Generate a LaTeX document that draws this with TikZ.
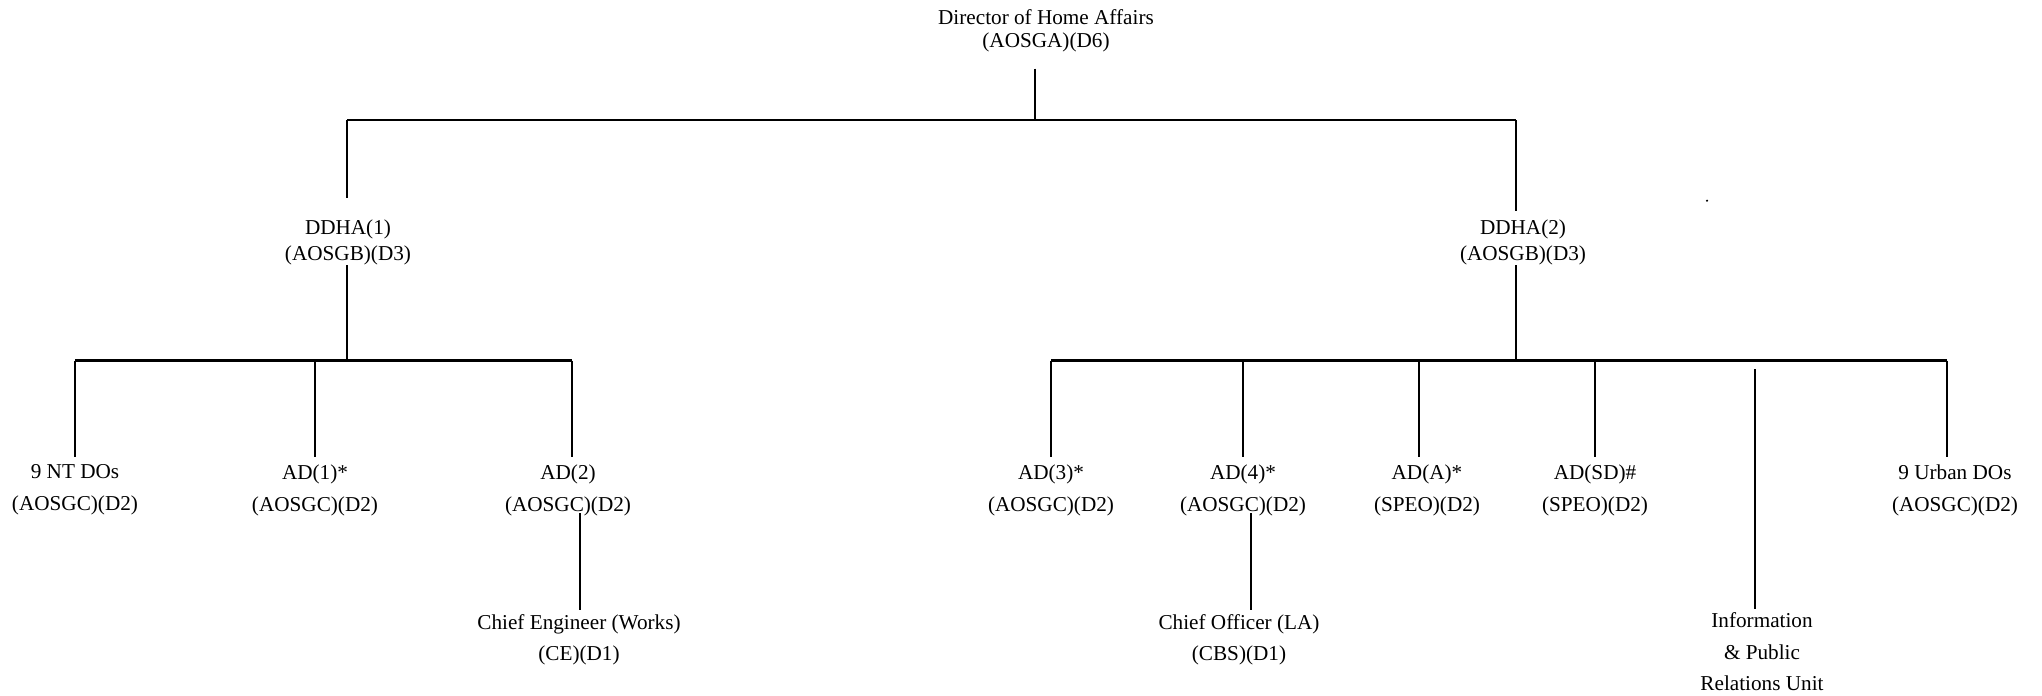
\documentclass[tikz,border=0pt]{standalone}
\usepackage{fontspec}
\setmainfont{Liberation Serif}
\begin{document}
\begin{tikzpicture}[x=0.5pt,y=-0.5pt,
  lbl/.style={inner sep=0pt, align=center},
  fdir/.style={font=\fontsize{10.6pt}{11.5pt}\selectfont},
  fdd/.style={font=\fontsize{10.6pt}{13pt}\selectfont},
  fch/.style={font=\fontsize{10.6pt}{16pt}\selectfont},
  fbot/.style={font=\fontsize{10.6pt}{15.7pt}\selectfont},
  bus/.style={line width=1.4pt},
  conn/.style={line width=1.1pt}]
\useasboundingbox (0,0) rectangle (2042,696);

% nodes
\node[lbl,fdir] (dir) at (1046,30.5) {Director of Home Affairs\\(AOSGA)(D6)};
\node[lbl,fdd] (dd1) at (348,242) {DDHA(1)\\(AOSGB)(D3)};
\node[lbl,fdd] (dd2) at (1523,242) {DDHA(2)\\(AOSGB)(D3)};
\node[lbl,fch] (ntdo) at (75,490) {9 NT DOs\\(AOSGC)(D2)};
\node[lbl,fch] (ad1) at (315,490) {AD(1)*\\(AOSGC)(D2)};
\node[lbl,fch] (ad2) at (568,490) {AD(2)\\(AOSGC)(D2)};
\node[lbl,fbot] (ce) at (579,639.5) {Chief Engineer (Works)\\(CE)(D1)};
\node[lbl,fch] (ad3) at (1051,490) {AD(3)*\\(AOSGC)(D2)};
\node[lbl,fch] (ad4) at (1243,490) {AD(4)*\\(AOSGC)(D2)};
\node[lbl,fch] (ada) at (1427,490) {AD(A)*\\(SPEO)(D2)};
\node[lbl,fch] (adsd) at (1595,490) {AD(SD)\#\\(SPEO)(D2)};
\node[lbl,fch] (urb) at (1955,490) {9 Urban DOs\\(AOSGC)(D2)};
\node[lbl,fbot] (co) at (1239,639.5) {Chief Officer (LA)\\(CBS)(D1)};
\node[lbl,fbot] (info) at (1762,652) {Information\\\& Public\\Relations Unit};
\node[inner sep=0pt] (dot) at (1707,200.7) {};
\fill (dot) circle (0.6pt);

% junction coordinates
\coordinate (j0) at (1035,120);
\coordinate (b0l) at (347,120);
\coordinate (b0r) at (1516,120);
\coordinate (b1l) at (75,360.7);
\coordinate (b1m) at (315,360.7);
\coordinate (b1r) at (572,360.7);
\coordinate (b2l) at (1051,360.7);
\coordinate (b2a) at (1243,360.7);
\coordinate (b2b) at (1419,360.7);
\coordinate (b2c) at (1595,360.7);
\coordinate (b2r) at (1947,360.7);
\coordinate (vinfo) at (1755,369);
\coordinate (vce) at (580,513);
\coordinate (vco) at (1251,513);

% top level
\draw[conn,shorten <=8.2pt] (dir.south -| j0) -- (j0);
\draw[bus] (b0l) -- (b0r);
\draw[conn,shorten >=10.3pt] (b0l) -- (b0l |- dd1.north);
\draw[conn,shorten >=3.8pt] (b0r) -- (b0r |- dd2.north);

% DDHA(1) branch
\draw[conn] (dd1.south -| b0l) -- (b0l |- b1l);
\draw[bus] (b1l) -- (b1r);
\draw[conn,shorten >=3.6pt] (b1l) -- (b1l |- ntdo.north);
\draw[conn,shorten >=3.6pt] (b1m) -- (b1m |- ad1.north);
\draw[conn,shorten >=3.6pt] (b1r) -- (b1r |- ad2.north);
\draw[conn,shorten >=1.8pt] (vce) -- (vce |- ce.north);

% DDHA(2) branch
\draw[conn] (dd2.south -| b0r) -- (b0r |- b2l);
\draw[bus] (b2l) -- (b2r);
\draw[conn,shorten >=3.6pt] (b2l) -- (b2l |- ad3.north);
\draw[conn,shorten >=3.6pt] (b2a) -- (b2a |- ad4.north);
\draw[conn,shorten >=3.6pt] (b2b) -- (b2b |- ada.north);
\draw[conn,shorten >=3.6pt] (b2c) -- (b2c |- adsd.north);
\draw[conn,shorten >=3.6pt] (b2r) -- (b2r |- urb.north);
\draw[conn,shorten >=1.8pt] (vinfo) -- (vinfo |- info.north);
\draw[conn,shorten >=1.8pt] (vco) -- (vco |- co.north);
\end{tikzpicture}
\end{document}
